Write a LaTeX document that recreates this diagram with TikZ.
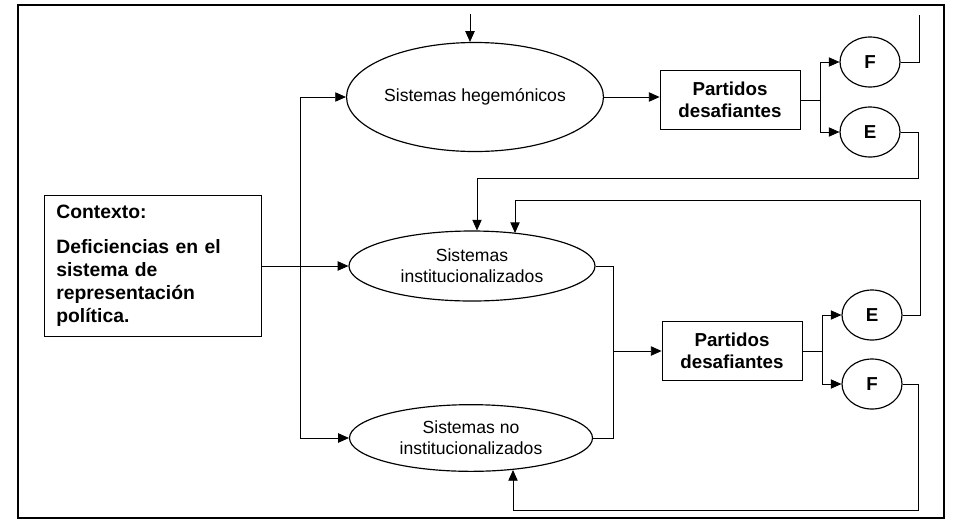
\documentclass[tikz,border=0pt]{standalone}
\usepackage{fontspec}
\setmainfont{Liberation Sans}
\usetikzlibrary{shapes.geometric,arrows.meta}

\begin{document}
\begin{tikzpicture}[x=0.03cm,y=-0.03cm]
	\tikzset{every node/.style={font=\fontsize{15}{18}\selectfont}}
	\tikzset{sistema/.style={ellipse,draw,line width=1pt,inner sep=0pt,align=center}}
	\tikzset{partido/.style={rectangle,draw,line width=0.7pt,minimum width=4.2cm,minimum height=1.77cm,align=center,font=\fontsize{16}{19}\selectfont\bfseries}}
	\tikzset{salida/.style={ellipse,draw,line width=1pt,minimum width=1.8cm,minimum height=1.5cm,inner sep=0pt,font=\fontsize{16}{19}\selectfont\bfseries}}
	\tikzset{linea/.style={line width=0.7pt}}
	\tikzset{flecha/.style={linea,-{Triangle[length=0.32cm,width=0.28cm]}}}
	\useasboundingbox (0,0) rectangle (953,521);
	\draw[line width=1.3pt] (18,5) rectangle (944,518);
	% contexto y sistemas
	\node[draw,line width=0.7pt,align=left,text width=5.8cm,inner xsep=0.35cm,minimum height=4.23cm,font=\fontsize{16.5}{19.8}\selectfont\bfseries] (ctx) at (153,266) {Contexto:\\[0.35cm]Deficiencias en el\\sistema de\\representación\\política.};
	\node[sistema,minimum width=7.2cm,minimum height=3.27cm] (hege) at (475,97) {Sistemas hegemónicos};
	\node[sistema,minimum width=7.38cm,minimum height=2.1cm] (inst) at (472,266) {Sistemas\\institucionalizados};
	\node[sistema,minimum width=7.29cm,minimum height=2.0cm] (noinst) at (471,438) {Sistemas no\\institucionalizados};
	% partidos y salidas
	\node[partido] (pd1) at (730,100) {Partidos\\desafiantes};
	\node[partido] (pd2) at (732,351) {Partidos\\desafiantes};
	\node[salida] (f1) at (870,62) {F};
	\node[salida] (e1) at (870,132) {E};
	\node[salida] (e2) at (872,315) {E};
	\node[salida] (f2) at (872,384) {F};
	% puntos de paso
	\coordinate (arriba) at (470,14);
	\coordinate (salF) at (919,15);
	\coordinate (rama) at (300,266);
	\coordinate (jL) at (613,351);
	\coordinate (jE1) at (918,178);
	\coordinate (jE1b) at (477,178);
	\coordinate (jE2) at (920,200);
	\coordinate (jE2b) at (515,200);
	\coordinate (inE2) at (515,233);
	\coordinate (jF2) at (918,510);
	\coordinate (jF2b) at (513,510);
	\coordinate (inF2) at (513,470);
	% conexiones
	\draw[flecha] (arriba) -- (arriba |- hege.north);
	\draw[flecha] (ctx.east) -- (inst.west);
	\draw[flecha] (rama) |- (hege.west);
	\draw[flecha] (rama) |- (noinst.west);
	\draw[flecha] (hege.east) -- (hege.east -| pd1.west);
	\draw[flecha] (pd1.east) -- ++(20,0) |- (f1.west);
	\draw[flecha] (pd1.east) ++(20,0) |- (e1.west);
	\draw[linea] (f1.east) -| (salF);
	\draw[flecha] (e1.east) -| (jE1) -- (jE1b) -- (jE1b |- inst.north);
	\draw[linea] (inst.east) -| (jL);
	\draw[linea] (noinst.east) -| (jL);
	\draw[flecha] (jL) -- (pd2.west);
	\draw[flecha] (pd2.east) -- ++(20,0) |- (e2.west);
	\draw[flecha] (pd2.east) ++(20,0) |- (f2.west);
	\draw[flecha] (e2.east) -| (jE2) -- (jE2b) -- (inE2);
	\draw[flecha] (f2.east) -| (jF2) -- (jF2b) -- (inF2);
\end{tikzpicture}
\end{document}
